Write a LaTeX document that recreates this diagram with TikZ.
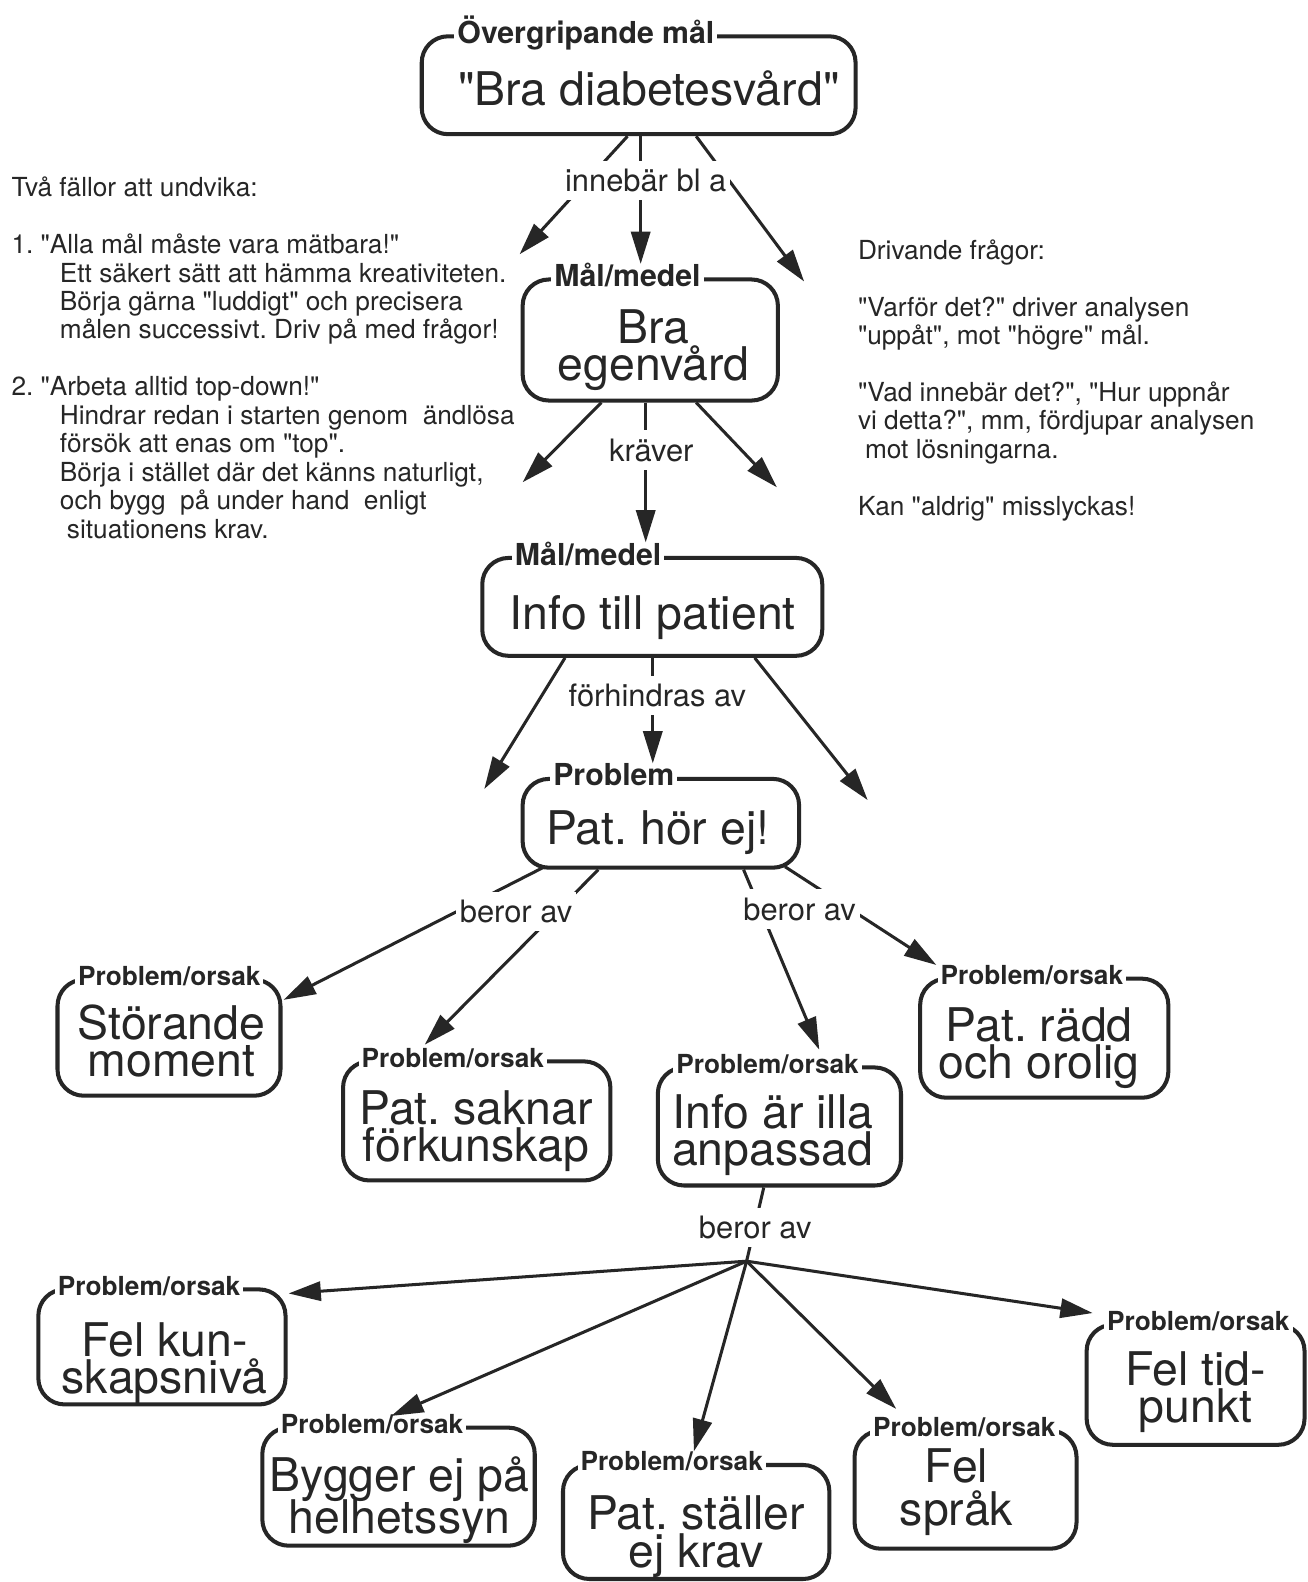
\documentclass[tikz,border=0pt]{standalone}
\usepackage{fontspec}
\newfontfamily\helv{TeX Gyre Heros}
\usetikzlibrary{arrows.meta,calc}
\frenchspacing
\definecolor{ink}{HTML}{262626}
\newcommand\fsbox{\helv\fontsize{23pt}{18.5pt}\selectfont}
\newcommand\fshead{\helv\bfseries\fontsize{15pt}{17pt}\selectfont}
\newcommand\fssub{\helv\bfseries\fontsize{13pt}{15pt}\selectfont}
\newcommand\fslink{\helv\fontsize{15.3pt}{17pt}\selectfont}
\newcommand\fsnote{\helv\fontsize{13pt}{14.1pt}\selectfont}
\tikzset{
  cbox/.style={draw=ink, line width=2pt, rounded corners=13pt, fill=white, inner sep=0pt},
  boxhead/.style={font=\fshead, text=ink, fill=white, anchor=west, inner xsep=1.5pt, inner ysep=0pt, text height=11pt, text depth=3pt},
  boxsub/.style={boxhead, font=\fssub, text height=9.5pt, text depth=2.7pt},
  btxt/.style={font=\fsbox, text=ink, align=center, inner sep=0pt},
  lnk/.style={font=\fslink, text=ink, fill=white, inner xsep=2pt, inner ysep=4pt},
  conn/.style={draw=ink, line width=1.5pt},
  arr/.style={conn, -{Triangle[length=16pt,width=9.5pt]}},
  note/.style={font=\fsnote, text=ink, align=left, inner sep=0pt, anchor=north west},
}
\begin{document}
\begin{tikzpicture}[x=0.5pt,y=-0.5pt]
\useasboundingbox (0,0) rectangle (1296,1568);
\fill[white] (0,0) rectangle (1296,1568);

% frames
\node[cbox, minimum width=215pt, minimum height=48.5pt] (top) at (633,84.5) {};
\node[cbox, minimum width=126.5pt, minimum height=60pt] (egen) at (644.5,337) {};
\node[cbox, minimum width=168.5pt, minimum height=48.5pt] (info) at (646.5,601.5) {};
\node[cbox, minimum width=137pt, minimum height=44pt] (hor) at (655,816) {};
\node[cbox, minimum width=110.5pt, minimum height=57.5pt] (stor) at (167.5,1028.5) {};
\node[cbox, minimum width=132.5pt, minimum height=59pt] (sak) at (472.5,1111) {};
\node[cbox, minimum width=120.5pt, minimum height=58.5pt] (illa) at (772.5,1116.5) {};
\node[cbox, minimum width=123pt, minimum height=59pt] (radd) at (1035,1029) {};
\node[cbox, minimum width=122.5pt, minimum height=57pt] (kun) at (160.5,1335) {};
\node[cbox, minimum width=135pt, minimum height=58.5pt] (bygg) at (395,1473.5) {};
\node[cbox, minimum width=132pt, minimum height=56.5pt] (krav) at (690,1508.5) {};
\node[cbox, minimum width=110pt, minimum height=58.5pt] (sprak) at (957,1476.5) {};
\node[cbox, minimum width=108pt, minimum height=59.5pt] (tid) at (1185,1372.5) {};

% frame headings
\node[boxhead] (topT) at (450,35) {Övergripande mål};
\node[boxhead] (egenT) at (546,276) {Mål/medel};
\node[boxhead] (infoT) at (507,552) {Mål/medel};
\node[boxhead] (horT) at (545,771) {Problem};
\node[boxsub] (storT) at (74,970) {Problem/orsak};
\node[boxsub] (sakT) at (355,1051) {Problem/orsak};
\node[boxsub] (illaT) at (667,1057) {Problem/orsak};
\node[boxsub] (raddT) at (929,969) {Problem/orsak};
\node[boxsub] (kunT) at (54,1277) {Problem/orsak};
\node[boxsub] (byggT) at (275,1414) {Problem/orsak};
\node[boxsub] (kravT) at (572,1451) {Problem/orsak};
\node[boxsub] (sprakT) at (862,1417) {Problem/orsak};
\node[boxsub] (tidT) at (1094,1312) {Problem/orsak};

% frame contents
\node[btxt] (topX) at (643,88) {"Bra diabetesvård"};
\node[btxt] (egenX) at (648,347) {Bra\\egenvård};
\node[btxt] (infoX) at (647,612) {Info till patient};
\node[btxt] (horX) at (652,825) {Pat. hör ej!};
\node[btxt] (storX) at (170,1031.5) {Störande\\moment};
\node[btxt] (sakX) at (472,1121) {Pat. saknar\\förkunskap};
\node[btxt] (illaX) at (766,1125) {Info är illa\\anpassad};
\node[btxt] (raddX) at (1030,1039) {Pat. rädd\\och orolig};
\node[btxt] (kunX) at (163,1351) {Fel kun-\\skapsnivå};
\node[btxt] (byggX) at (396,1487) {Bygger ej på\\[-2pt]helhetssyn};
\node[btxt] (kravX) at (690,1523) {Pat. ställer\\ej krav};
\node[btxt, font=\helv\fontsize{23pt}{21.5pt}\selectfont] (sprakX) at (948,1479) {Fel\\språk};
\node[btxt] (tidX) at (1185,1380) {Fel tid-\\punkt};

% goal -> sub-goals
\coordinate (a1) at ($(top.south)+(-11,0)$);
\coordinate (a2) at ($(top.south)+(2,0)$);
\coordinate (a3) at ($(top.south)+(57,0)$);
\coordinate (endA1) at (515,252);
\coordinate (endA3) at (797,279);
\draw[arr] (a1) -- (endA1);
\draw[arr] (a2) -- (a2 |- egenT.north);
\draw[arr] (a3) -- (endA3);
\node[lnk] (l1) at (640,179) {innebär bl a};

% self-care -> means
\coordinate (b1) at ($(egen.south)+(-48.5,0)$);
\coordinate (b2) at ($(egen.south)+(-4.5,0)$);
\coordinate (b3) at ($(egen.south)+(45.5,0)$);
\coordinate (endB1) at (518,478);
\coordinate (endB3) at (770,483);
\draw[arr] (b1) -- (endB1);
\draw[arr] (b2) -- (b2 |- infoT.north);
\draw[arr] (b3) -- (endB3);
\node[lnk] (l2) at (645.5,446) {kräver};

% information -> obstacles
\coordinate (c1) at ($(info.south)+(-86.5,0)$);
\coordinate (c2) at ($(info.south)+(0.5,0)$);
\coordinate (c3) at ($(info.south)+(101.5,0)$);
\coordinate (endC1) at (480,782);
\coordinate (endC3) at (860,793);
\draw[arr] (c1) -- (endC1);
\draw[arr] (c2) -- (c2 |- horT.north);
\draw[arr] (c3) -- (endC3);
\node[lnk] (l3) at (651.5,689) {förhindras av};

% problem -> causes
\coordinate (d1) at ($(hor.south)+(-115,-3)$);
\coordinate (d2) at ($(hor.south)+(-62,0)$);
\coordinate (d3) at ($(hor.south)+(82,0)$);
\coordinate (d4) at ($(hor.south)+(123,-3)$);
\draw[arr] (d1) -- ($(stor.north east)+(1,22)$);
\draw[arr] (d2) -- ($(sakT.north west)+(66,-3)$);
\draw[arr] (d3) -- ($(illaT.north west)+(145,-4)$);
\draw[arr] (d4) -- ($(raddT.north west)+(-1,0)$);
\node[lnk] (l4) at (511.5,903) {beror av};
\node[lnk] (l5) at (792.5,901) {beror av};

% badly adapted information -> causes
\coordinate (e0) at ($(illa.south)+(-15.5,0)$);
\coordinate (hub) at (740,1250);
\draw[conn] (e0) -- (hub);
\draw[arr] (hub) -- ($(kun.north east)+(1,6)$);
\draw[arr] (hub) -- ($(byggT.north)+(19,2)$);
\draw[arr] (hub) -- ($(kravT.north)+(22,0)$);
\draw[arr] (hub) -- ($(sprakT.north)+(-67.5,-8)$);
\draw[arr] (hub) -- ($(tidT.north west)+(-11,2)$);
\node[lnk] (l6) at (748.5,1217) {beror av};

% side notes
\node[note] (traps) at (11,175) {Två fällor att undvika:\\[14.1pt]
1. "Alla mål måste vara mätbara!"\\
\hspace*{24pt}Ett säkert sätt att hämma kreativiteten.\\
\hspace*{24pt}Börja gärna "luddigt" och precisera\\
\hspace*{24pt}målen successivt. Driv på med frågor!\\[14.1pt]
2. "Arbeta alltid top-down!"\\
\hspace*{24pt}Hindrar redan i starten genom~ ändlösa\\
\hspace*{24pt}försök att enas om "top".\\
\hspace*{24pt}Börja i stället där det känns naturligt,\\
\hspace*{24pt}och bygg~ på under hand~ enligt\\
\hspace*{27.5pt}situationens krav.};

\node[note] (drive) at (850,237) {Drivande frågor:\\[14.1pt]
"Varför det?" driver analysen\\
"uppåt", mot "högre" mål.\\[14.1pt]
"Vad innebär det?", "Hur uppnår\\
vi detta?", mm, fördjupar analysen\\
\hspace*{3.5pt}mot lösningarna.\\[14.1pt]
Kan "aldrig" misslyckas!};
\end{tikzpicture}
\end{document}
